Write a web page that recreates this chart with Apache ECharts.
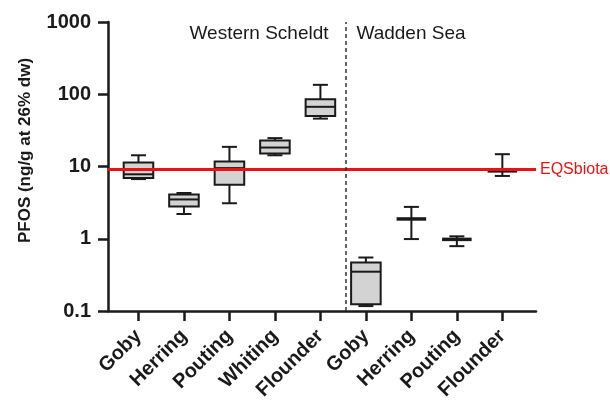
<!DOCTYPE html>
<html>
<head>
<meta charset="utf-8">
<script src="https://cdn.jsdelivr.net/npm/echarts@6/dist/echarts.min.js"></script>
<style>html,body{margin:0;padding:0;background:#fff}#c{width:610px;height:405px}</style>
</head>
<body>
<div id="c"></div>
<script>
// ---- data ----
const categories = ['Goby','Herring','Pouting','Whiting','Flounder','Goby','Herring','Pouting','Flounder'];
const regions = ['Western Scheldt','Wadden Sea'];
const mins    = [6.7, 2.2, 3.1, 14.3, 46,   0.117, 0.99, 0.79, 7.4];
const q1s     = [6.95,2.8, 5.6, 15.1, 50,   0.124, null, null, null];
const medians = [7.8, 3.5, 9.5, 18.3, 67,   0.35,  1.88, 0.98, 8.7];
const q3s     = [11.4,4.1, 11.7,22.9, 85,   0.47,  null, null, null];
const maxs    = [14.3,4.3, 18.7,24.7, 135,  0.55,  2.76, 1.08, 14.8];
const eqsBiota = 9.1;
const regionDivider = 5.55;

const positions = categories.map((c, i) => i + 1);
const data = categories.map((c, i) => [positions[i], mins[i], q1s[i], medians[i], q3s[i], maxs[i]]);

const FONT = '"Liberation Sans", Arial, Helvetica, sans-serif';
const INK = '#1a1a1a';

function renderItem(params, api) {
  const x = api.value(0);
  const med = api.value(3);
  const band = api.coord([x + 0.5, med])[0] - api.coord([x - 0.5, med])[0];
  const pMin = api.coord([x, api.value(1)]);
  const pMax = api.coord([x, api.value(5)]);
  const pMed = api.coord([x, med]);
  const q1 = api.value(2), q3 = api.value(4);
  const cx = pMed[0];
  const capW = band * 0.33, boxW = band * 0.65;
  const st = { stroke: INK, lineWidth: 2, fill: null };
  const L = (x1, y1, x2, y2, s) => ({ type: 'line', shape: { x1, y1, x2, y2 }, style: s || st });
  const children = [];
  const hasBox = q1 != null && !isNaN(q1) && q3 != null && !isNaN(q3);
  if (hasBox) {
    const p1 = api.coord([x, q1]), p3 = api.coord([x, q3]);
    children.push(L(cx, pMax[1], cx, p3[1]));
    children.push(L(cx, p1[1], cx, pMin[1]));
    children.push(L(cx - capW / 2, pMax[1], cx + capW / 2, pMax[1]));
    children.push(L(cx - capW / 2, pMin[1], cx + capW / 2, pMin[1]));
    children.push({ type: 'rect', shape: { x: cx - boxW / 2, y: p3[1], width: boxW, height: p1[1] - p3[1] },
      style: { fill: '#d3d3d3', stroke: INK, lineWidth: 2 } });
    children.push(L(cx - boxW / 2, pMed[1], cx + boxW / 2, pMed[1]));
  } else {
    children.push(L(cx, pMax[1], cx, pMin[1]));
    children.push(L(cx - capW / 2, pMax[1], cx + capW / 2, pMax[1]));
    children.push(L(cx - capW / 2, pMin[1], cx + capW / 2, pMin[1]));
    children.push(L(cx - boxW / 2, pMed[1], cx + boxW / 2, pMed[1], { stroke: INK, lineWidth: 3.5 }));
  }
  return { type: 'group', children };
}

const chart = echarts.init(document.getElementById('c'), null, { renderer: 'canvas' });
chart.setOption({
  animation: false,
  backgroundColor: '#fff',
  grid: { left: 108, right: 74, top: 22, bottom: 94, containLabel: false },
  xAxis: {
    type: 'value', min: 0.33, max: 9.74,
    splitLine: { show: false },
    axisLine: { show: true, onZero: false, lineStyle: { color: INK, width: 2.5 } },
    axisTick: { show: true, customValues: positions, length: 10, lineStyle: { color: INK, width: 2.5 } },
    axisLabel: { customValues: positions, rotate: 45, margin: 22,
      formatter: v => categories[Math.round(v) - 1] || '',
      fontFamily: FONT, fontWeight: 'bold', fontSize: 20, color: INK }
  },
  yAxis: {
    type: 'log', logBase: 10, min: 0.1, max: 1000,
    splitLine: { show: false },
    axisLine: { show: true, lineStyle: { color: INK, width: 2.5 } },
    axisTick: { show: true, length: 10, lineStyle: { color: INK, width: 2.5 } },
    axisLabel: { fontFamily: FONT, fontWeight: 'bold', fontSize: 20, color: INK, margin: 17,
      formatter: v => String(parseFloat(Number(v).toPrecision(6))) },
    name: 'PFOS (ng/g at 26% dw)', nameLocation: 'middle', nameGap: 74,
    nameTextStyle: { fontFamily: FONT, fontWeight: 'bold', fontSize: 17, color: INK, padding: [0, 0, 0, 32] }
  },
  graphic: [
    { type: 'text', x: 259, y: 34, style: { text: regions[0], align: 'center', verticalAlign: 'middle',
      font: '19px ' + FONT, fill: INK } },
    { type: 'text', x: 411, y: 34, style: { text: regions[1], align: 'center', verticalAlign: 'middle',
      font: '19px ' + FONT, fill: INK } }
  ],
  series: [{
    type: 'custom',
    renderItem,
    data,
    encode: { x: 0, y: [1, 2, 3, 4, 5] },
    z: 3,
    markLine: {
      silent: true, symbol: ['none', 'none'], animation: false,
      data: [
        { yAxis: eqsBiota, lineStyle: { color: '#ee1111', width: 3, type: 'solid' },
          label: { show: true, position: 'end', formatter: 'EQSbiota', color: '#ee1111',
            fontFamily: FONT, fontSize: 16, distance: 4 } },
        { xAxis: regionDivider, lineStyle: { color: '#333', width: 1.5, type: [4, 3] }, label: { show: false } }
      ]
    }
  }]
});
</script>
</body>
</html>
